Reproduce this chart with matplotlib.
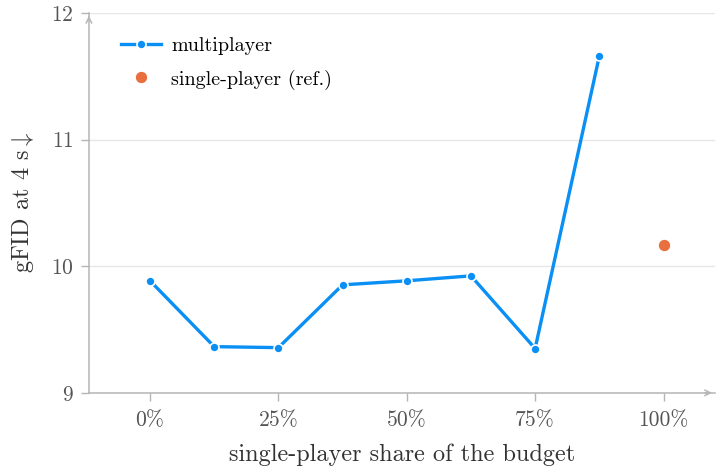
import matplotlib
matplotlib.use("Agg")
import matplotlib.pyplot as plt

plt.rcParams['font.family'] = ['cmr10', 'DejaVu Serif']
plt.rcParams['mathtext.fontset'] = 'cm'
plt.rcParams['axes.formatter.use_mathtext'] = True

share = [0, 12.5, 25, 37.5, 50, 62.5, 75, 87.5]
gfid_multi = [9.885, 9.365, 9.357, 9.853, 9.885, 9.924, 9.35, 11.66]
single_share = [100]
gfid_single = [10.165]
xtick_vals = [0, 25, 50, 75, 100]
xtick_labels = ['0%', '25%', '50%', '75%', '100%']
ytick_vals = [9, 10, 11, 12]

blue = '#0a8ff5'
orange = '#e8703f'
axis_gray = '#b5b5b5'

fig = plt.figure(figsize=(7.17, 4.66), dpi=100)
ax = fig.add_axes([0.124, 0.157, 0.873, 0.815])

ax.plot(share, gfid_multi, color=blue, lw=2.4, marker='o', ms=6.5,
        mfc=blue, mec='white', mew=1.2, label='multiplayer', zorder=3)
ax.plot(single_share, gfid_single, ls='none', marker='o', ms=9,
        color=orange, mec='white', mew=0.8, label='single-player (ref.)', zorder=3)

ax.set_xlim(-11.9, 110)
ax.set_ylim(9, 12)
ax.set_xticks(xtick_vals)
ax.set_xticklabels(xtick_labels)
ax.set_yticks(ytick_vals)

ax.grid(axis='y', color='#e6e6e6', lw=1)
ax.set_axisbelow(True)
for s in ['top', 'right']:
    ax.spines[s].set_visible(False)
for s in ['left', 'bottom']:
    ax.spines[s].set_color(axis_gray)
    ax.spines[s].set_linewidth(1.1)

# arrow heads on the axes
ax.annotate('', xy=(1.0, 0), xytext=(0.98, 0), xycoords='axes fraction',
            arrowprops=dict(arrowstyle='->', color=axis_gray, lw=1.1))
ax.annotate('', xy=(0, 1.0), xytext=(0, 0.98), xycoords='axes fraction',
            arrowprops=dict(arrowstyle='->', color=axis_gray, lw=1.1))

ax.tick_params(axis='both', colors=axis_gray, labelcolor='#555555',
               labelsize=15.5, length=6, width=1.0)
ax.tick_params(axis='x', pad=7)
ax.tick_params(axis='y', pad=5)

ax.set_xlabel('single-player share of the budget', fontsize=17.5, color='#333333', labelpad=9.5)
ax.set_ylabel(r'gFID at 4 s$\downarrow$', fontsize=17.5, color='#333333', labelpad=11)

ax.legend(loc='upper left', frameon=False, fontsize=14.5, bbox_to_anchor=(0.022, 0.985),
          handlelength=2.0, labelspacing=0.72, handletextpad=0.5)

fig.savefig('out.png', dpi=100)
